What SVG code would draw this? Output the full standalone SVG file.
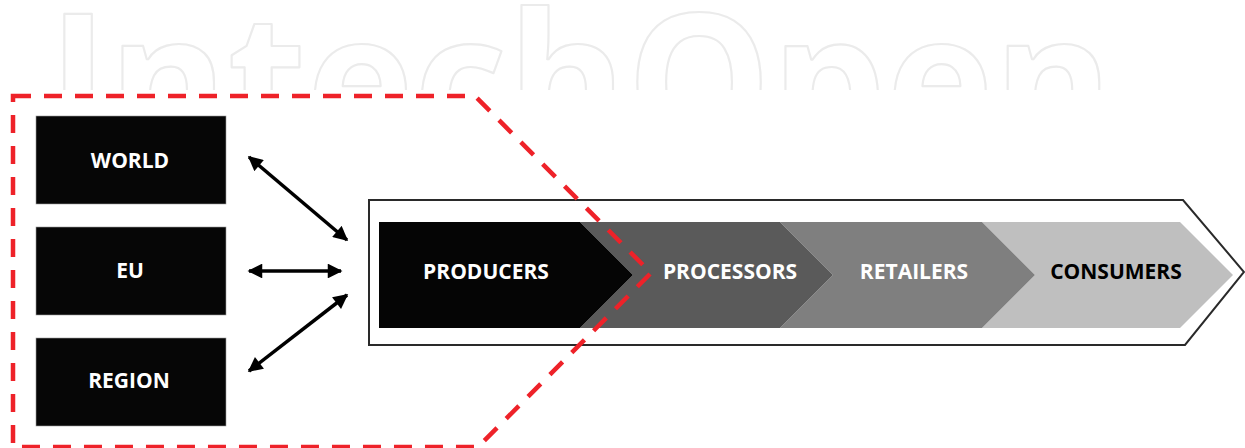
<svg xmlns="http://www.w3.org/2000/svg" width="1245" height="448" viewBox="0 0 1245 448">
<style>
.lbl{font-family:"Open Sans","Liberation Sans",sans-serif;font-weight:bold;font-size:21px;text-anchor:middle}
.w{fill:#ffffff}
.box{fill:#060606;stroke:#9a9a9a;stroke-width:0.6}
.conn{stroke:#000;stroke-width:3.5;fill:none;marker-start:url(#ah);marker-end:url(#ah)}
.wm{font-family:"Open Sans","Liberation Sans",sans-serif;font-weight:bold;font-size:190px;fill:none;stroke:#ebebeb;stroke-width:2.2;stroke-linejoin:round}
</style>
<defs>
<marker id="ah" viewBox="0 0 10 10" refX="9" refY="5" markerWidth="4.6" markerHeight="4.2" orient="auto-start-reverse" markerUnits="strokeWidth">
<path d="M0,0 L10,5 L0,10 Z" fill="#000"/>
</marker>
<clipPath id="wmclip"><rect x="0" y="0" width="1245" height="90"/></clipPath>
</defs>
<rect width="1245" height="448" fill="#ffffff"/>
<g id="watermark" clip-path="url(#wmclip)">
<text class="wm" x="48" y="150" textLength="1065" lengthAdjust="spacingAndGlyphs">IntechOpen</text>
</g>
<g id="chain-outline">
<polygon points="369,200 1183,200 1244,272 1185,345 369,345" fill="#ffffff" stroke="#2a2a2a" stroke-width="2"/>
</g>
<g id="consumers">
<polygon points="982,222 1180,222 1233,275 1180,328 982,328 1035,275" fill="#bfbfbf"/>
<text class="lbl" x="1116" y="279" fill="#000">CONSUMERS</text>
</g>
<g id="retailers">
<polygon points="780,222 982,222 1035,275 982,328 780,328 833,275" fill="#7f7f7f"/>
<text class="lbl w" x="914" y="279">RETAILERS</text>
</g>
<g id="processors">
<polygon points="580,222 780,222 833,275 780,328 580,328 633,275" fill="#5a5a5a"/>
<text class="lbl w" x="730" y="279">PROCESSORS</text>
</g>
<g id="producers">
<polygon points="379,222 580,222 633,275 580,328 379,328" fill="#050505"/>
<text class="lbl w" x="486" y="279">PRODUCERS</text>
</g>
<g id="world">
<rect class="box" x="36" y="116" width="190" height="88"/>
<text class="lbl w" x="130" y="168">WORLD</text>
</g>
<g id="eu">
<rect class="box" x="36" y="227" width="190" height="88"/>
<text class="lbl w" x="130" y="278">EU</text>
</g>
<g id="region">
<rect class="box" x="36" y="338" width="190" height="88"/>
<text class="lbl w" x="129" y="388">REGION</text>
</g>
<g id="connectors">
<line class="conn" x1="249" y1="157" x2="347" y2="240"/>
<line class="conn" x1="249" y1="271" x2="341" y2="271"/>
<line class="conn" x1="249" y1="371" x2="347" y2="295"/>
</g>
<g id="boundary">
<polygon points="13,96 475,96 651,273 478,447 13,447" fill="none" stroke="#ee2229" stroke-width="4.5" stroke-dasharray="18,13"/>
</g>
</svg>
